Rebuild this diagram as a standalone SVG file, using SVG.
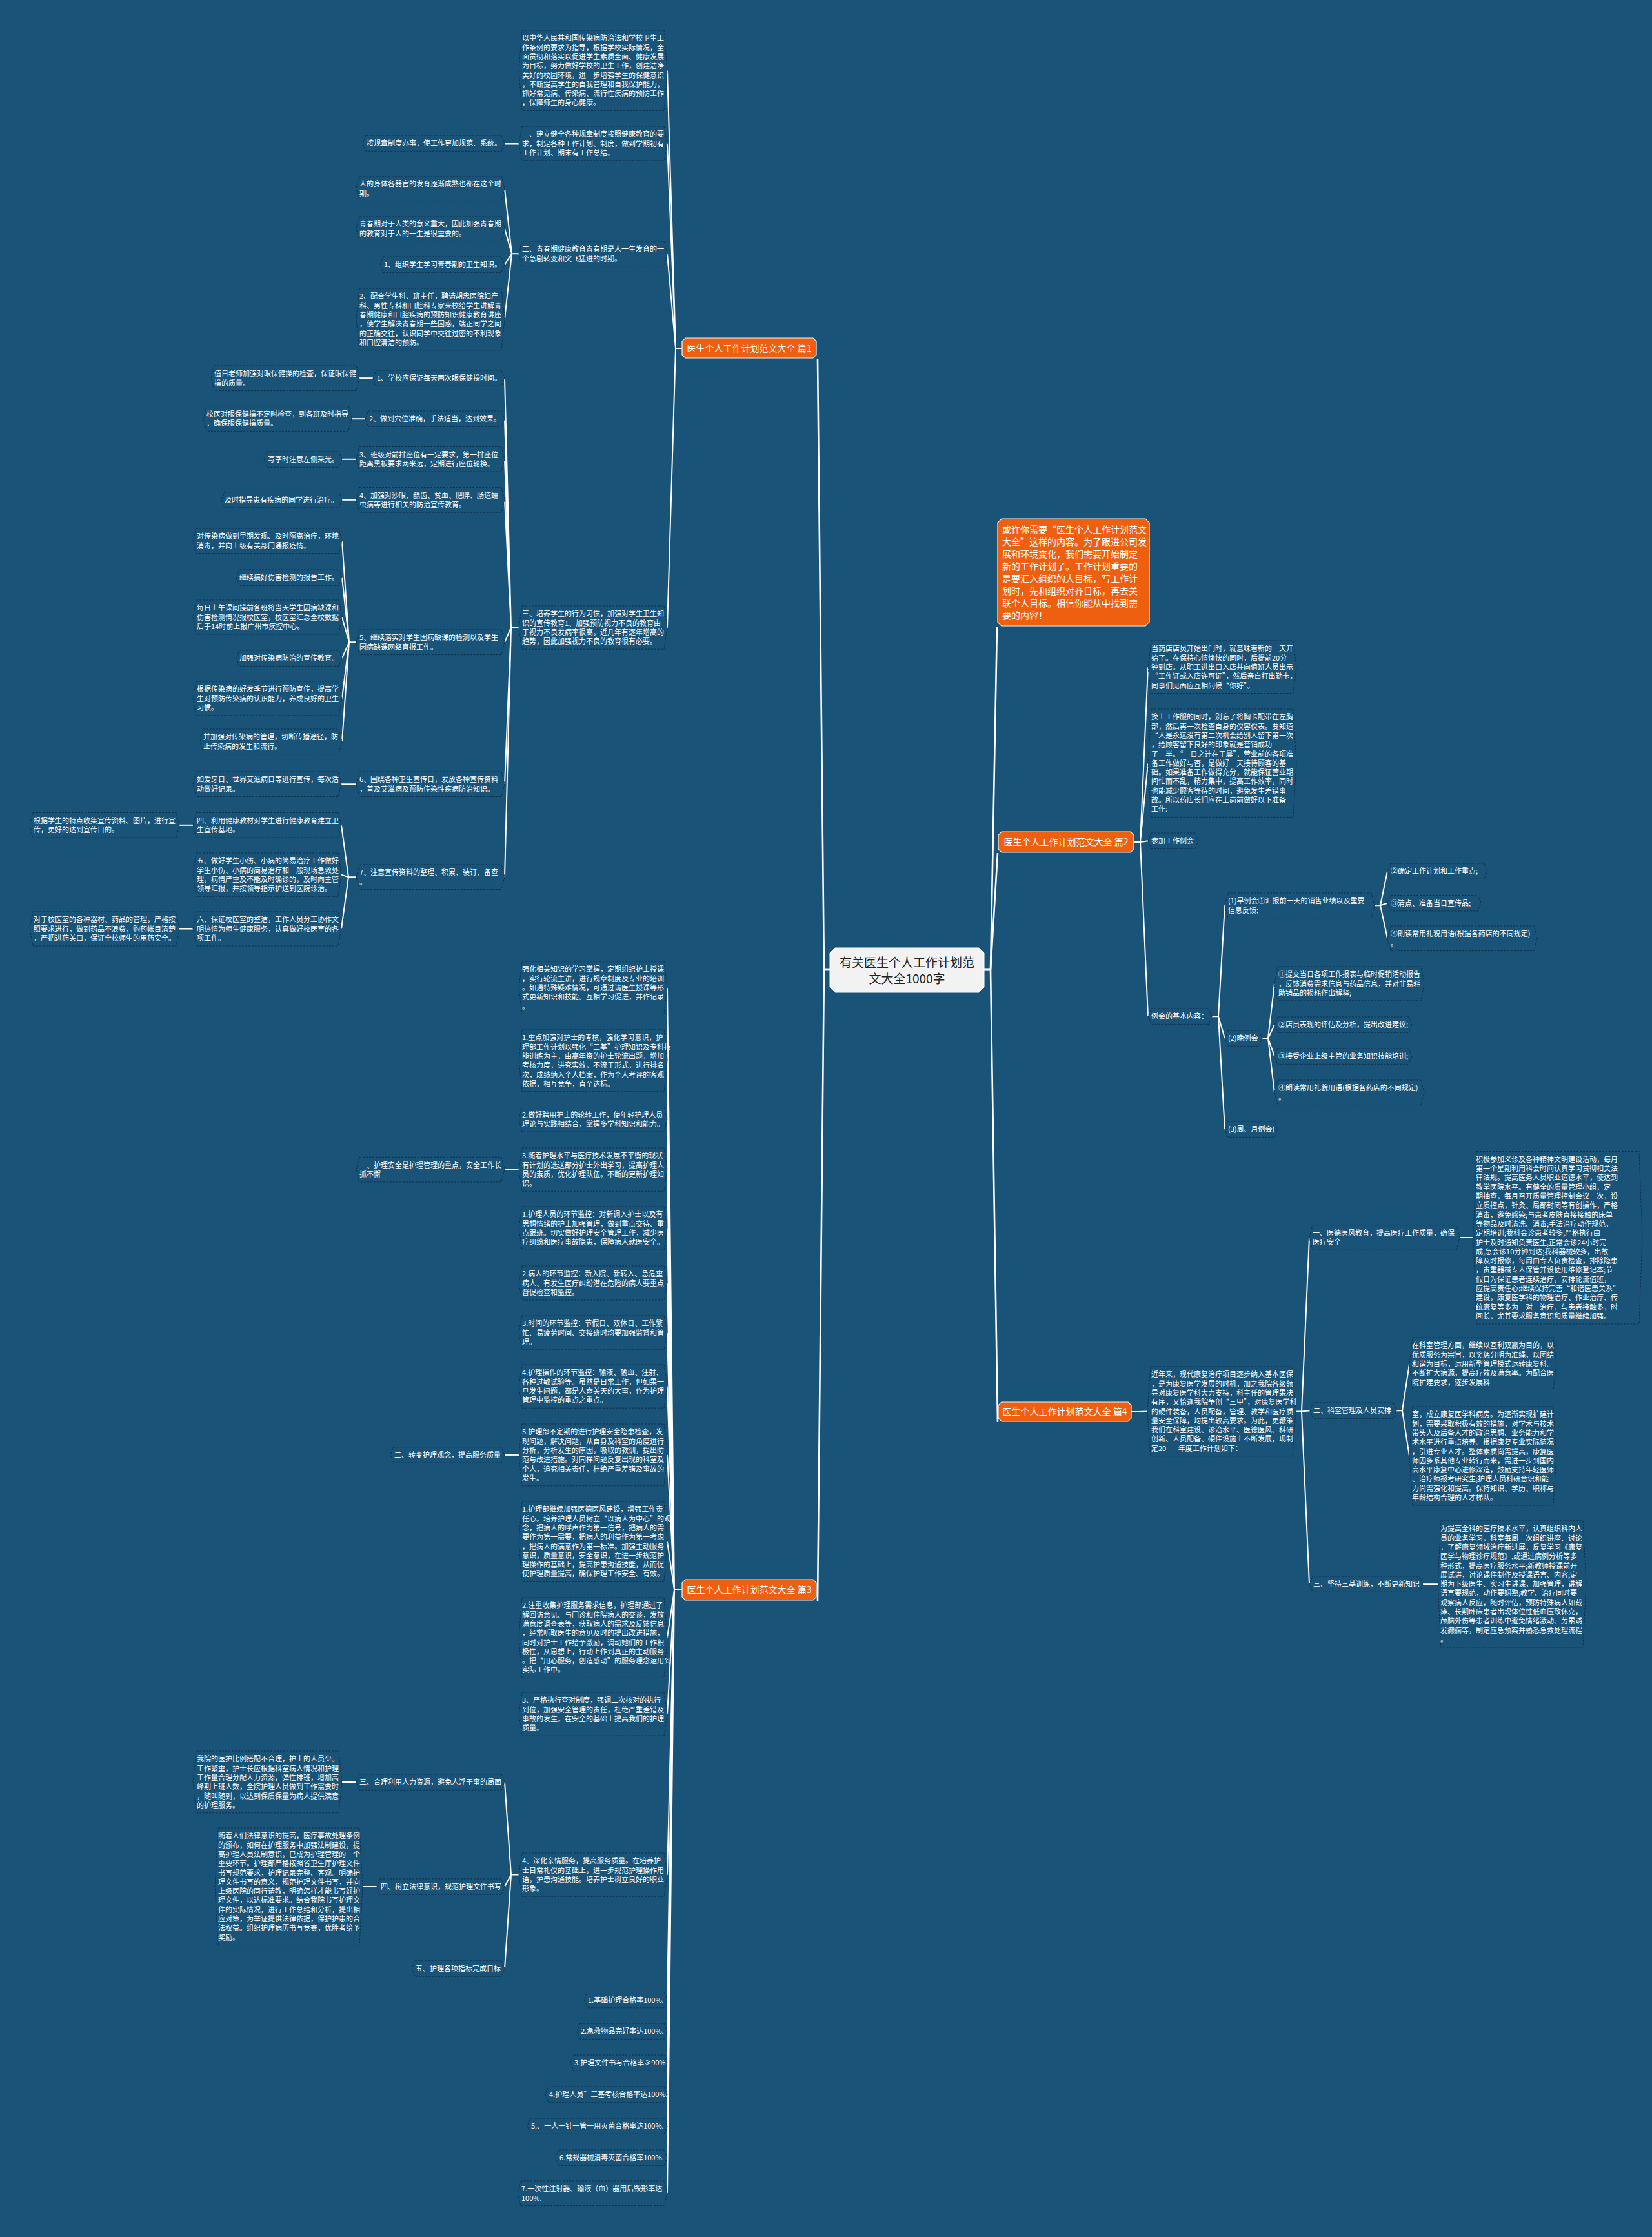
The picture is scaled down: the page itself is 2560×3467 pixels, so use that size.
<svg xmlns="http://www.w3.org/2000/svg" width="2560" height="3467" viewBox="0 0 2560 3467">
<style>
.n{fill:#1a5378;stroke:#0c304b;stroke-width:1;stroke-dasharray:3 2}
.t{font-family:"Noto Sans CJK SC","Noto Sans",sans-serif;font-size:11px;fill:#fff}
.o{fill:#ee5f0f;stroke:#f3f3f3;stroke-width:1.2}
.ot{font-family:"Noto Sans CJK SC","Noto Sans",sans-serif;font-size:14px;fill:#fff}
.ln{fill:none;stroke:#fff;stroke-width:2;stroke-linejoin:round}
.lm{fill:none;stroke:#fff;stroke-width:2.6;stroke-linejoin:round}
</style>
<rect x="0" y="0" width="2560" height="3467" fill="#1a5378"/>

<g id="connectors">
<path class="lm" d="M1286,1503 H1277 L1267,556"/>
<path class="lm" d="M1286,1503 H1277 L1267,2481"/>
<path class="lm" d="M1525,1503 H1535 L1545,971"/>
<path class="lm" d="M1525,1503 H1535 L1546,1322"/>
<path class="lm" d="M1525,1503 H1535 L1546,2204"/>
<path class="ln" d="M1057,540 H1047 L1034,109.2 M1047,540 L1034,222.5 M1047,540 L1034,393.3 M1047,540 L1034,972.6"/>
<path class="ln" d="M804,222.5 H782"/>
<path class="ln" d="M804,393.3 H793 L782,292.3 M793,393.3 L782,354.3 M793,393.3 L782,410.2 M793,393.3 L782,494.9"/>
<path class="ln" d="M804,972.6 H792 L782,586.2 M792,972.6 L782,649.2 M792,972.6 L782,711.8 M792,972.6 L782,774.8 M792,972.6 L782,995.3 M792,972.6 L782,1215.3 M792,972.6 L782,1359.3"/>
<path class="ln" d="M578,586.2 H557"/>
<path class="ln" d="M566,649.2 H545"/>
<path class="ln" d="M552,711.8 H530"/>
<path class="ln" d="M552,774.8 H530"/>
<path class="ln" d="M552,995.3 H541 L530,838.3 M541,995.3 L530,895.2 M541,995.3 L530,956.5 M541,995.3 L530,1020.2 M541,995.3 L530,1082.5 M541,995.3 L530,1149.3"/>
<path class="ln" d="M552,1215.3 H529"/>
<path class="ln" d="M552,1359.3 H540 L529,1278.8 M540,1359.3 L529,1355.6 M540,1359.3 L529,1439.5"/>
<path class="ln" d="M299,1278.8 H278"/>
<path class="ln" d="M299,1439.5 H278"/>
<path class="ln" d="M1057,2464 H1045 L1034,1530.8 M1045,2464 L1034,1643.9 M1045,2464 L1034,1734.8 M1045,2464 L1034,1812.6 M1045,2464 L1034,1903.6 M1045,2464 L1034,1988.5 M1045,2464 L1034,2065.5 M1045,2464 L1034,2148.6 M1045,2464 L1034,2254.9 M1045,2464 L1034,2389.2 M1045,2464 L1034,2538.2 M1045,2464 L1034,2656.6 M1045,2464 L1034,2905.6 M1045,2464 L1034,3099.7 M1045,2464 L1034,3148.2 M1045,2464 L1034,3197.2 M1045,2464 L1034,3246.2 M1045,2464 L1034,3295.2 M1045,2464 L1034,3344.2 M1045,2464 L1034,3399.3"/>
<path class="ln" d="M804,1812.6 H782"/>
<path class="ln" d="M804,2254.9 H782"/>
<path class="ln" d="M804,2905.6 H792 L782,2762 M792,2905.6 L782,2924 M792,2905.6 L782,3051"/>
<path class="ln" d="M552,2762 H530"/>
<path class="ln" d="M584,2924 H562"/>
<path class="ln" d="M1757,1305 H1767 L1779,1033.8 M1767,1305 L1779,1182.7 M1767,1305 L1779,1303.2 M1767,1305 L1779,1575.2"/>
<path class="ln" d="M1878,1575.2 H1888 L1898,1403.3 M1888,1575.2 L1898,1609.2 M1888,1575.2 L1898,1750.2"/>
<path class="ln" d="M2130,1403.3 H2139 L2150,1350.2 M2139,1403.3 L2150,1399.7 M2139,1403.3 L2150,1454.3"/>
<path class="ln" d="M1956,1609.2 H1965 L1975,1524.5 M1965,1609.2 L1975,1588.2 M1965,1609.2 L1975,1637.2 M1965,1609.2 L1975,1693.3"/>
<path class="ln" d="M1753,2188 H1765 L1778,2187.4"/>
<path class="ln" d="M2008,2187.4 H2017 L2029,1918 M2017,2187.4 L2030,2186.2 M2017,2187.4 L2029,2455.2"/>
<path class="ln" d="M2262,1918 H2283"/>
<path class="ln" d="M2164,2186.2 H2173 L2184,2113.8 M2173,2186.2 L2184,2256.5"/>
<path class="ln" d="M2205,2455.2 H2228"/>
</g>

<g id="center">
<path d="M1294,1469 H1517 L1525,1477 V1530 L1517,1538 H1294 L1286,1530 V1477 Z" fill="#f2f2f2" stroke="#ffffff" stroke-width="1"/>
<text x="1405.5" y="1499" text-anchor="middle" font-family="Noto Sans CJK SC, Noto Sans, sans-serif" font-size="19" fill="#222">有关医生个人工作计划范</text>
<text x="1405.5" y="1524" text-anchor="middle" font-family="Noto Sans CJK SC, Noto Sans, sans-serif" font-size="19" fill="#222">文大全1000字</text>
</g>

<g id="intro">
<path class="o" d="M1552,804 H1775 L1781,810 V964 L1775,970 H1552 L1546,964 V810 Z"/>
<text class="ot" x="1553" y="826.3"><tspan x="1553">或许你需要“医生个人工作计划范文</tspan><tspan x="1553" dy="18.9">大全”这样的内容。为了跟进公司发</tspan><tspan x="1553" dy="18.9">展和环境变化，我们需要开始制定</tspan><tspan x="1553" dy="18.9">新的工作计划了。工作计划重要的</tspan><tspan x="1553" dy="18.9">是要汇入组织的大目标，写工作计</tspan><tspan x="1553" dy="18.9">划时，先和组织对齐目标，再去关</tspan><tspan x="1553" dy="18.9">联个人目标。相信你能从中找到需</tspan><tspan x="1553" dy="18.9">要的内容！</tspan></text>
</g>

<g id="b1"><path class="o" d="M1062,524 H1260 L1265,529 V550 L1260,555 H1062 L1057,550 V529 Z"/><text class="ot" x="1161" y="544.5" text-anchor="middle">医生个人工作计划范文大全 篇1</text></g>
<g id="b2"><path class="o" d="M1552,1289 H1752 L1757,1294 V1316 L1752,1321 H1552 L1547,1316 V1294 Z"/><text class="ot" x="1652" y="1310" text-anchor="middle">医生个人工作计划范文大全 篇2</text></g>
<g id="b3"><path class="o" d="M1062,2448 H1260 L1265,2453 V2475 L1260,2480 H1062 L1057,2475 V2453 Z"/><text class="ot" x="1161" y="2469" text-anchor="middle">医生个人工作计划范文大全 篇3</text></g>
<g id="b4"><path class="o" d="M1552,2173 H1748 L1753,2178 V2198 L1748,2203 H1552 L1547,2198 V2178 Z"/><text class="ot" x="1650" y="2193" text-anchor="middle">医生个人工作计划范文大全 篇4</text></g>

<g id="a1"><polygon class="n" points="809,47 1029,47 1034,109.2 1029,171.4 809,171.4 804,109.2"/><text class="t" x="809" y="63.3"><tspan x="809">以中华人民共和国传染病防治法和学校卫生工</tspan><tspan x="809" dy="14.3">作条例的要求为指导，根据学校实际情况，全</tspan><tspan x="809" dy="14.3">面贯彻和落实以促进学生素质全面、健康发展</tspan><tspan x="809" dy="14.3">为目标，努力做好学校的卫生工作，创建洁净</tspan><tspan x="809" dy="14.3">美好的校园环境，进一步增强学生的保健意识</tspan><tspan x="809" dy="14.3">，不断提高学生的自我管理和自我保护能力，</tspan><tspan x="809" dy="14.3">抓好常见病、传染病、流行性疾病的预防工作</tspan><tspan x="809" dy="14.3">，保障师生的身心健康。</tspan></text></g>
<g id="a2"><polygon class="n" points="809,196 1029,196 1034,222.5 1029,248.9 809,248.9 804,222.5"/><text class="t" x="809" y="212.3"><tspan x="809">一、建立健全各种规章制度按照健康教育的要</tspan><tspan x="809" dy="14.3">求，制定各种工作计划、制度，做到学期初有</tspan><tspan x="809" dy="14.3">工作计划、期末有工作总结。</tspan></text></g>
<g id="a2c"><polygon class="n" points="567,210 777,210 782,222.2 777,234.3 567,234.3 562,222.2"/><text class="t" x="568" y="226.3">按规章制度办事，使工作更加规范、系统。</text></g>
<g id="a3"><polygon class="n" points="809,374 1029,374 1034,393.3 1029,412.6 809,412.6 804,393.3"/><text class="t" x="809" y="390.3"><tspan x="809">二、青春期健康教育青春期是人一生发育的一</tspan><tspan x="809" dy="14.3">个急剧转变和突飞猛进的时期。</tspan></text></g>
<g id="k1"><polygon class="n" points="557,273 777,273 782,292.3 777,311.6 557,311.6 552,292.3"/><text class="t" x="557" y="289.3"><tspan x="557">人的身体各器官的发育逐渐成熟也都在这个时</tspan><tspan x="557" dy="14.3">期。</tspan></text></g>
<g id="k2"><polygon class="n" points="557,335 777,335 782,354.3 777,373.6 557,373.6 552,354.3"/><text class="t" x="557" y="351.3"><tspan x="557">青春期对于人类的意义重大，因此加强青春期</tspan><tspan x="557" dy="14.3">的教育对于人的一生是很重要的。</tspan></text></g>
<g id="k3"><polygon class="n" points="594,398 777,398 782,410.2 777,422.3 594,422.3 589,410.2"/><text class="t" x="595" y="414.3">1、组织学生学习青春期的卫生知识。</text></g>
<g id="k4"><polygon class="n" points="557,447 777,447 782,494.9 777,542.8 557,542.8 552,494.9"/><text class="t" x="557" y="463.3"><tspan x="557">2、配合学生科、班主任，聘请胡忠医院妇产</tspan><tspan x="557" dy="14.3">科、男性专科和口腔科专家来校给学生讲解青</tspan><tspan x="557" dy="14.3">春期健康和口腔疾病的预防知识健康教育讲座</tspan><tspan x="557" dy="14.3">，使学生解决青春期一些困惑，端正同学之间</tspan><tspan x="557" dy="14.3">的正确交往，认识同学中交往过密的不利现象</tspan><tspan x="557" dy="14.3">和口腔清洁的预防。</tspan></text></g>
<g id="a4"><polygon class="n" points="809,939 1029,939 1034,972.6 1029,1006.2 809,1006.2 804,972.6"/><text class="t" x="809" y="955.3"><tspan x="809">三、培养学生的行为习惯，加强对学生卫生知</tspan><tspan x="809" dy="14.3">识的宣传教育1、加强预防视力不良的教育由</tspan><tspan x="809" dy="14.3">于视力不良发病率很高，近几年有逐年增高的</tspan><tspan x="809" dy="14.3">趋势，因此加强视力不良的教育很有必要。</tspan></text></g>
<g id="bb1"><polygon class="n" points="583,574 777,574 782,586.2 777,598.3 583,598.3 578,586.2"/><text class="t" x="584" y="590.3">1、学校应保证每天两次眼保健操时间。</text></g>
<g id="bb1c"><polygon class="n" points="332,567 552,567 557,586.3 552,605.6 332,605.6 327,586.3"/><text class="t" x="332" y="583.3"><tspan x="332">值日老师加强对眼保健操的检查，保证眼保健</tspan><tspan x="332" dy="14.3">操的质量。</tspan></text></g>
<g id="bb2"><polygon class="n" points="571,637 777,637 782,649.2 777,661.3 571,661.3 566,649.2"/><text class="t" x="572" y="653.3">2、做到穴位准确，手法适当，达到效果。</text></g>
<g id="bb2c"><polygon class="n" points="320,629.7 540,629.7 545,649 540,668.3 320,668.3 315,649"/><text class="t" x="320" y="646"><tspan x="320">校医对眼保健操不定时检查，到各班及时指导</tspan><tspan x="320" dy="14.3">，确保眼保健操质量。</tspan></text></g>
<g id="bb3"><polygon class="n" points="557,692.5 777,692.5 782,711.8 777,731.1 557,731.1 552,711.8"/><text class="t" x="557" y="708.8"><tspan x="557">3、班级对前排座位有一定要求，第一排座位</tspan><tspan x="557" dy="14.3">距离黑板要求两米远，定期进行座位轮换。</tspan></text></g>
<g id="bb3c"><polygon class="n" points="414,700 525,700 530,712.2 525,724.3 414,724.3 409,712.2"/><text class="t" x="415" y="716.3">写字时注意左侧采光。</text></g>
<g id="bb4"><polygon class="n" points="557,755.5 777,755.5 782,774.8 777,794.1 557,794.1 552,774.8"/><text class="t" x="557" y="771.8"><tspan x="557">4、加强对沙眼、龋齿、贫血、肥胖、肠道蠕</tspan><tspan x="557" dy="14.3">虫病等进行相关的防治宣传教育。</tspan></text></g>
<g id="bb4c"><polygon class="n" points="348,762.6 525,762.6 530,774.8 525,786.9 348,786.9 343,774.8"/><text class="t" x="348" y="778.9">及时指导患有疾病的同学进行治疗。</text></g>
<g id="bb5"><polygon class="n" points="557,976 777,976 782,995.3 777,1014.6 557,1014.6 552,995.3"/><text class="t" x="557" y="992.3"><tspan x="557">5、继续落实对学生因病缺课的检测以及学生</tspan><tspan x="557" dy="14.3">因病缺课网络直报工作。</tspan></text></g>
<g id="c51"><polygon class="n" points="304,819 525,819 530,838.3 525,857.6 304,857.6 299,838.3"/><text class="t" x="305" y="835.3"><tspan x="305">对传染病做到早期发现、及时隔离治疗，环境</tspan><tspan x="305" dy="14.3">消毒，并向上级有关部门通报疫情。</tspan></text></g>
<g id="c52"><polygon class="n" points="371,883 525,883 530,895.2 525,907.3 371,907.3 366,895.2"/><text class="t" x="371" y="899.3">继续搞好伤害检测的报告工作。</text></g>
<g id="c53"><polygon class="n" points="304,930 525,930 530,956.5 525,982.9 304,982.9 299,956.5"/><text class="t" x="305" y="946.3"><tspan x="305">每日上午课间操前各班将当天学生因病缺课和</tspan><tspan x="305" dy="14.3">伤害检测情况报校医室，校医室汇总全校数据</tspan><tspan x="305" dy="14.3">后于14时前上报广州市疾控中心。</tspan></text></g>
<g id="c54"><polygon class="n" points="371,1008 525,1008 530,1020.2 525,1032.3 371,1032.3 366,1020.2"/><text class="t" x="371" y="1024.3">加强对传染病防治的宣传教育。</text></g>
<g id="c55"><polygon class="n" points="304,1056 525,1056 530,1082.5 525,1108.9 304,1108.9 299,1082.5"/><text class="t" x="305" y="1072.3"><tspan x="305">根据传染病的好发季节进行预防宣传，提高学</tspan><tspan x="305" dy="14.3">生对预防传染病的认识能力，养成良好的卫生</tspan><tspan x="305" dy="14.3">习惯。</tspan></text></g>
<g id="c56"><polygon class="n" points="315,1130 525,1130 530,1149.3 525,1168.6 315,1168.6 310,1149.3"/><text class="t" x="315" y="1146.3"><tspan x="315">并加强对传染病的管理，切断传播途径，防</tspan><tspan x="315" dy="14.3">止传染病的发生和流行。</tspan></text></g>
<g id="bb6"><polygon class="n" points="557,1196 777,1196 782,1215.3 777,1234.6 557,1234.6 552,1215.3"/><text class="t" x="557" y="1212.3"><tspan x="557">6、围绕各种卫生宣传日，发放各种宣传资料</tspan><tspan x="557" dy="14.3">，普及艾滋病及预防传染性疾病防治知识。</tspan></text></g>
<g id="bb6c"><polygon class="n" points="304,1196 524,1196 529,1215.3 524,1234.6 304,1234.6 299,1215.3"/><text class="t" x="305" y="1212.3"><tspan x="305">如爱牙日、世界艾滋病日等进行宣传，每次活</tspan><tspan x="305" dy="14.3">动做好记录。</tspan></text></g>
<g id="bb7"><polygon class="n" points="557,1340 777,1340 782,1359.3 777,1378.6 557,1378.6 552,1359.3"/><text class="t" x="557" y="1356.3"><tspan x="557">7、注意宣传资料的整理、积累、装订、备查</tspan><tspan x="557" dy="14.3">。</tspan></text></g>
<g id="cc1"><polygon class="n" points="304,1259.5 524,1259.5 529,1278.8 524,1298.1 304,1298.1 299,1278.8"/><text class="t" x="305" y="1275.8"><tspan x="305">四、利用健康教材对学生进行健康教育建立卫</tspan><tspan x="305" dy="14.3">生宣传基地。</tspan></text></g>
<g id="cc1c"><polygon class="n" points="51,1259.5 273,1259.5 278,1278.8 273,1298.1 51,1298.1 46,1278.8"/><text class="t" x="52" y="1275.8"><tspan x="52">根据学生的特点收集宣传资料、图片，进行宣</tspan><tspan x="52" dy="14.3">传，更好的达到宣传目的。</tspan></text></g>
<g id="cc2"><polygon class="n" points="304,1322 524,1322 529,1355.6 524,1389.2 304,1389.2 299,1355.6"/><text class="t" x="305" y="1338.3"><tspan x="305">五、做好学生小伤、小病的简易治疗工作做好</tspan><tspan x="305" dy="14.3">学生小伤、小病的简易治疗和一般现场急救处</tspan><tspan x="305" dy="14.3">理，病情严重及不能及时确诊的，及时向主管</tspan><tspan x="305" dy="14.3">领导汇报，并按领导指示护送到医院诊治。</tspan></text></g>
<g id="cc3"><polygon class="n" points="304,1413 524,1413 529,1439.5 524,1465.9 304,1465.9 299,1439.5"/><text class="t" x="305" y="1429.3"><tspan x="305">六、保证校医室的整洁，工作人员分工协作文</tspan><tspan x="305" dy="14.3">明热情为师生健康服务，认真做好校医室的各</tspan><tspan x="305" dy="14.3">项工作。</tspan></text></g>
<g id="cc3c"><polygon class="n" points="51,1413 273,1413 278,1439.5 273,1465.9 51,1465.9 46,1439.5"/><text class="t" x="52" y="1429.3"><tspan x="52">对于校医室的各种器材、药品的管理，严格按</tspan><tspan x="52" dy="14.3">照要求进行，做到药品不浪费，购药帐目清楚</tspan><tspan x="52" dy="14.3">，严把进药关口，保证全校师生的用药安全。</tspan></text></g>

<g id="d1"><polygon class="n" points="809,1490 1029,1490 1034,1530.8 1029,1571.5 809,1571.5 804,1530.8"/><text class="t" x="809" y="1506.3"><tspan x="809">强化相关知识的学习掌握，定期组织护士授课</tspan><tspan x="809" dy="14.3">，实行轮流主讲，进行规章制度及专业的培训</tspan><tspan x="809" dy="14.3">。如遇特殊疑难情况，可通过请医生授课等形</tspan><tspan x="809" dy="14.3">式更新知识和技能。互相学习促进，并作记录</tspan><tspan x="809" dy="14.3">。</tspan></text></g>
<g id="d2"><polygon class="n" points="809,1596 1029,1596 1034,1643.9 1029,1691.8 809,1691.8 804,1643.9"/><text class="t" x="809" y="1612.3"><tspan x="809">1.重点加强对护士的考核，强化学习意识，护</tspan><tspan x="809" dy="14.3">理部工作计划以强化“三基”护理知识及专科技</tspan><tspan x="809" dy="14.3">能训练为主，由高年资的护士轮流出题，增加</tspan><tspan x="809" dy="14.3">考核力度，讲究实效，不流于形式，进行排名</tspan><tspan x="809" dy="14.3">次，成绩纳入个人档案，作为个人考评的客观</tspan><tspan x="809" dy="14.3">依据，相互竞争，直至达标。</tspan></text></g>
<g id="d3"><polygon class="n" points="809,1715.5 1029,1715.5 1034,1734.8 1029,1754.1 809,1754.1 804,1734.8"/><text class="t" x="809" y="1731.8"><tspan x="809">2.做好聘用护士的轮转工作，使年轻护理人员</tspan><tspan x="809" dy="14.3">理论与实践相结合，掌握多学科知识和能力。</tspan></text></g>
<g id="d4"><polygon class="n" points="809,1779 1029,1779 1034,1812.6 1029,1846.2 809,1846.2 804,1812.6"/><text class="t" x="809" y="1795.3"><tspan x="809">3.随着护理水平与医疗技术发展不平衡的现状</tspan><tspan x="809" dy="14.3">有计划的选送部分护士外出学习，提高护理人</tspan><tspan x="809" dy="14.3">员的素质，优化护理队伍。不断的更新护理知</tspan><tspan x="809" dy="14.3">识。</tspan></text></g>
<g id="d4c"><polygon class="n" points="557,1793.3 777,1793.3 782,1812.6 777,1831.9 557,1831.9 552,1812.6"/><text class="t" x="557" y="1809.6"><tspan x="557">一、护理安全是护理管理的重点，安全工作长</tspan><tspan x="557" dy="14.3">抓不懈</tspan></text></g>
<g id="d5"><polygon class="n" points="809,1870 1029,1870 1034,1903.6 1029,1937.2 809,1937.2 804,1903.6"/><text class="t" x="809" y="1886.3"><tspan x="809">1.护理人员的环节监控：对新调入护士以及有</tspan><tspan x="809" dy="14.3">思想情绪的护士加强管理，做到重点交待、重</tspan><tspan x="809" dy="14.3">点跟班。切实做好护理安全管理工作，减少医</tspan><tspan x="809" dy="14.3">疗纠纷和医疗事故隐患，保障病人就医安全。</tspan></text></g>
<g id="d6"><polygon class="n" points="809,1962 1029,1962 1034,1988.5 1029,2014.9 809,2014.9 804,1988.5"/><text class="t" x="809" y="1978.3"><tspan x="809">2.病人的环节监控：新入院、新转入、急危重</tspan><tspan x="809" dy="14.3">病人、有发生医疗纠纷潜在危险的病人要重点</tspan><tspan x="809" dy="14.3">督促检查和监控。</tspan></text></g>
<g id="d7"><polygon class="n" points="809,2039 1029,2039 1034,2065.5 1029,2091.9 809,2091.9 804,2065.5"/><text class="t" x="809" y="2055.3"><tspan x="809">3.时间的环节监控：节假日、双休日、工作繁</tspan><tspan x="809" dy="14.3">忙、易疲劳时间、交接班时均要加强监督和管</tspan><tspan x="809" dy="14.3">理。</tspan></text></g>
<g id="d8"><polygon class="n" points="809,2115 1029,2115 1034,2148.6 1029,2182.2 809,2182.2 804,2148.6"/><text class="t" x="809" y="2131.3"><tspan x="809">4.护理操作的环节监控：输液、输血、注射、</tspan><tspan x="809" dy="14.3">各种过敏试验等。虽然是日常工作，但如果一</tspan><tspan x="809" dy="14.3">旦发生问题，都是人命关天的大事，作为护理</tspan><tspan x="809" dy="14.3">管理中监控的重点之重点。</tspan></text></g>
<g id="d9"><polygon class="n" points="809,2207 1029,2207 1034,2254.9 1029,2302.8 809,2302.8 804,2254.9"/><text class="t" x="809" y="2223.3"><tspan x="809">5.护理部不定期的进行护理安全隐患检查，发</tspan><tspan x="809" dy="14.3">现问题，解决问题，从自身及科室的角度进行</tspan><tspan x="809" dy="14.3">分析，分析发生的原因，吸取的教训，提出防</tspan><tspan x="809" dy="14.3">范与改进措施。对同样问题反复出现的科室及</tspan><tspan x="809" dy="14.3">个人，追究相关责任，杜绝严重差错及事故的</tspan><tspan x="809" dy="14.3">发生。</tspan></text></g>
<g id="d9c"><polygon class="n" points="610,2242.8 777,2242.8 782,2254.9 777,2267.1 610,2267.1 605,2254.9"/><text class="t" x="611" y="2259.1">二、转变护理观念，提高服务质量</text></g>
<g id="d10"><polygon class="n" points="809,2327 1029,2327 1034,2389.2 1029,2451.4 809,2451.4 804,2389.2"/><text class="t" x="809" y="2343.3"><tspan x="809">1.护理部继续加强医德医风建设，增强工作责</tspan><tspan x="809" dy="14.3">任心。培养护理人员树立“以病人为中心”的观</tspan><tspan x="809" dy="14.3">念，把病人的呼声作为第一信号，把病人的需</tspan><tspan x="809" dy="14.3">要作为第一需要，把病人的利益作为第一考虑</tspan><tspan x="809" dy="14.3">，把病人的满意作为第一标准。加强主动服务</tspan><tspan x="809" dy="14.3">意识，质量意识，安全意识，在进一步规范护</tspan><tspan x="809" dy="14.3">理操作的基础上，提高护患沟通技能，从而促</tspan><tspan x="809" dy="14.3">使护理质量提高，确保护理工作安全、有效。</tspan></text></g>
<g id="d11"><polygon class="n" points="809,2476 1029,2476 1034,2538.2 1029,2600.4 809,2600.4 804,2538.2"/><text class="t" x="809" y="2492.3"><tspan x="809">2.注重收集护理服务需求信息，护理部通过了</tspan><tspan x="809" dy="14.3">解回访意见、与门诊和住院病人的交谈，发放</tspan><tspan x="809" dy="14.3">满意度调查表等，获取病人的需求及反馈信息</tspan><tspan x="809" dy="14.3">，经常听取医生的意见及时的提出改进措施，</tspan><tspan x="809" dy="14.3">同时对护士工作给予激励，调动她们的工作积</tspan><tspan x="809" dy="14.3">极性，从思想上，行动上作到真正的主动服务</tspan><tspan x="809" dy="14.3">。把“用心服务，创造感动”的服务理念运用到</tspan><tspan x="809" dy="14.3">实际工作中。</tspan></text></g>
<g id="d12"><polygon class="n" points="809,2623 1029,2623 1034,2656.6 1029,2690.2 809,2690.2 804,2656.6"/><text class="t" x="809" y="2639.3"><tspan x="809">3、严格执行查对制度，强调二次核对的执行</tspan><tspan x="809" dy="14.3">到位，加强安全管理的责任，杜绝严重差错及</tspan><tspan x="809" dy="14.3">事故的发生。在安全的基础上提高我们的护理</tspan><tspan x="809" dy="14.3">质量。</tspan></text></g>
<g id="d13"><polygon class="n" points="809,2872 1029,2872 1034,2905.6 1029,2939.2 809,2939.2 804,2905.6"/><text class="t" x="809" y="2888.3"><tspan x="809">4、深化亲情服务，提高服务质量。在培养护</tspan><tspan x="809" dy="14.3">士日常礼仪的基础上，进一步规范护理操作用</tspan><tspan x="809" dy="14.3">语，护患沟通技能。培养护士树立良好的职业</tspan><tspan x="809" dy="14.3">形象。</tspan></text></g>
<g id="e1"><polygon class="n" points="557,2749.9 777,2749.9 782,2762 777,2774.2 557,2774.2 552,2762"/><text class="t" x="557" y="2766.2">三、合理利用人力资源，避免人浮于事的局面</text></g>
<g id="e1c"><polygon class="n" points="304,2714 525,2714 530,2761.9 525,2809.8 304,2809.8 299,2761.9"/><text class="t" x="305" y="2730.3"><tspan x="305">我院的医护比例搭配不合理，护士的人员少。</tspan><tspan x="305" dy="14.3">工作繁重，护士长应根据科室病人情况和护理</tspan><tspan x="305" dy="14.3">工作量合理分配人力资源，弹性排班，增加高</tspan><tspan x="305" dy="14.3">峰期上班人数，全院护理人员做到工作需要时</tspan><tspan x="305" dy="14.3">，随叫随到，以达到保质保量为病人提供满意</tspan><tspan x="305" dy="14.3">的护理服务。</tspan></text></g>
<g id="e2"><polygon class="n" points="589,2911.9 777,2911.9 782,2924 777,2936.2 589,2936.2 584,2924"/><text class="t" x="590" y="2928.2">四、树立法律意识，规范护理文件书写</text></g>
<g id="e2c"><polygon class="n" points="338,2833 557,2833 562,2923.8 557,3014.6 338,3014.6 333,2923.8"/><text class="t" x="338" y="2849.3"><tspan x="338">随着人们法律意识的提高，医疗事故处理条例</tspan><tspan x="338" dy="14.3">的颁布，如何在护理服务中加强法制建设，提</tspan><tspan x="338" dy="14.3">高护理人员法制意识，已成为护理管理的一个</tspan><tspan x="338" dy="14.3">重要环节。护理部严格按照省卫生厅护理文件</tspan><tspan x="338" dy="14.3">书写规范要求，护理记录完整、客观。明确护</tspan><tspan x="338" dy="14.3">理文件书写的意义，规范护理文件书写，并向</tspan><tspan x="338" dy="14.3">上级医院的同行请教，明确怎样才能书写好护</tspan><tspan x="338" dy="14.3">理文件，以达标准要求。结合我院书写护理文</tspan><tspan x="338" dy="14.3">件的实际情况，进行工作总结和分析，提出相</tspan><tspan x="338" dy="14.3">应对策，为举证提供法律依据，保护护患的合</tspan><tspan x="338" dy="14.3">法权益。组织护理病历书写竞赛，优胜者给予</tspan><tspan x="338" dy="14.3">奖励。</tspan></text></g>
<g id="e3"><polygon class="n" points="643,3038.9 777,3038.9 782,3051 777,3063.2 643,3063.2 638,3051"/><text class="t" x="644" y="3055.2">五、护理各项指标完成目标</text></g>
<g id="f1"><polygon class="n" points="910,3087.5 1029,3087.5 1034,3099.7 1029,3111.8 910,3111.8 905,3099.7"/><text class="t" x="911" y="3103.8">1.基础护理合格率100%.</text></g>
<g id="f2"><polygon class="n" points="899,3136 1029,3136 1034,3148.2 1029,3160.3 899,3160.3 894,3148.2"/><text class="t" x="900" y="3152.3">2.急救物品完好率达100%.</text></g>
<g id="f3"><polygon class="n" points="889,3185 1029,3185 1034,3197.2 1029,3209.3 889,3209.3 884,3197.2"/><text class="t" x="890" y="3201.3">3.护理文件书写合格率≥90%</text></g>
<g id="f4"><polygon class="n" points="850,3234 1029,3234 1034,3246.2 1029,3258.3 850,3258.3 845,3246.2"/><text class="t" x="851" y="3250.3">4.护理人员”三基考核合格率达100%.</text></g>
<g id="f5"><polygon class="n" points="822,3283 1029,3283 1034,3295.2 1029,3307.3 822,3307.3 817,3295.2"/><text class="t" x="823" y="3299.3">5.、一人一针一管一用灭菌合格率达100%.</text></g>
<g id="f6"><polygon class="n" points="866,3332 1029,3332 1034,3344.2 1029,3356.3 866,3356.3 861,3344.2"/><text class="t" x="867" y="3348.3">6.常规器械消毒灭菌合格率100%.</text></g>
<g id="f7"><polygon class="n" points="807,3380 1029,3380 1034,3399.3 1029,3418.6 807,3418.6 802,3399.3"/><text class="t" x="808" y="3396.3"><tspan x="808">7.一次性注射器、输液（血）器用后毁形率达</tspan><tspan x="808" dy="14.3">100%.</tspan></text></g>

<g id="ga"><polygon class="n" points="1784,993 2004,993 2009,1033.8 2004,1074.5 1784,1074.5 1779,1033.8"/><text class="t" x="1784" y="1009.3"><tspan x="1784">当药店店员开始出门时，就意味着新的一天开</tspan><tspan x="1784" dy="14.3">始了。在保持心情愉快的同时，后提前20分</tspan><tspan x="1784" dy="14.3">钟到店。从职工进出口入店并向值班人员出示</tspan><tspan x="1784" dy="14.3">“工作证或入店许可证”，然后亲自打出勤卡，</tspan><tspan x="1784" dy="14.3">同事们见面应互相问候“你好”。</tspan></text></g>
<g id="gb"><polygon class="n" points="1784,1099 2004,1099 2009,1182.7 2004,1266.3 1784,1266.3 1779,1182.7"/><text class="t" x="1784" y="1115.3"><tspan x="1784">换上工作服的同时，别忘了将胸卡配带在左胸</tspan><tspan x="1784" dy="14.3">部，然后再一次检查自身的仪容仪表。要知道</tspan><tspan x="1784" dy="14.3">“人是永远没有第二次机会给别人留下第一次</tspan><tspan x="1784" dy="14.3">，给顾客留下良好的印象就是营销成功</tspan><tspan x="1784" dy="14.3">了一半。“一日之计在于晨”，营业前的各项准</tspan><tspan x="1784" dy="14.3">备工作做好与否，是做好一天接待顾客的基</tspan><tspan x="1784" dy="14.3">础。如果准备工作做得充分，就能保证营业期</tspan><tspan x="1784" dy="14.3">间忙而不乱，精力集中，提高工作效率，同时</tspan><tspan x="1784" dy="14.3">也能减少顾客等待的时间，避免发生差错事</tspan><tspan x="1784" dy="14.3">故。所以药店长们应在上岗前做好以下准备</tspan><tspan x="1784" dy="14.3">工作:</tspan></text></g>
<g id="g1"><polygon class="n" points="1784,1291 1852,1291 1857,1303.2 1852,1315.3 1784,1315.3 1779,1303.2"/><text class="t" x="1784" y="1307.3">参加工作例会</text></g>
<g id="g2"><polygon class="n" points="1784,1563 1873,1563 1878,1575.2 1873,1587.3 1784,1587.3 1779,1575.2"/><text class="t" x="1784" y="1579.3">例会的基本内容：</text></g>
<g id="h1"><polygon class="n" points="1903,1384 2125,1384 2130,1403.3 2125,1422.6 1903,1422.6 1898,1403.3"/><text class="t" x="1903" y="1400.3"><tspan x="1903">(1)早例会①汇报前一天的销售业绩以及重要</tspan><tspan x="1903" dy="14.3">信息反馈;</tspan></text></g>
<g id="h1a"><polygon class="n" points="2155,1338 2300,1338 2305,1350.2 2300,1362.3 2155,1362.3 2150,1350.2"/><text class="t" x="2155" y="1354.3">②确定工作计划和工作重点;</text></g>
<g id="h1b"><polygon class="n" points="2155,1387.5 2290,1387.5 2295,1399.7 2290,1411.8 2155,1411.8 2150,1399.7"/><text class="t" x="2155" y="1403.8">③清点、准备当日宣传品;</text></g>
<g id="h1c"><polygon class="n" points="2155,1435 2377,1435 2382,1454.3 2377,1473.6 2155,1473.6 2150,1454.3"/><text class="t" x="2155" y="1451.3"><tspan x="2155">④朗读常用礼貌用语(根据各药店的不同规定)</tspan><tspan x="2155" dy="14.3">。</tspan></text></g>
<g id="h2"><polygon class="n" points="1903,1597 1951,1597 1956,1609.2 1951,1621.3 1903,1621.3 1898,1609.2"/><text class="t" x="1903" y="1613.3">(2)晚例会</text></g>
<g id="h2a"><polygon class="n" points="1980,1498 2202,1498 2207,1524.5 2202,1550.9 1980,1550.9 1975,1524.5"/><text class="t" x="1981" y="1514.3"><tspan x="1981">①提交当日各项工作报表与临时促销活动报告</tspan><tspan x="1981" dy="14.3">，反馈消费需求信息与药品信息，并对非易耗</tspan><tspan x="1981" dy="14.3">助销品的损耗作出解释;</tspan></text></g>
<g id="h2b"><polygon class="n" points="1980,1576 2183,1576 2188,1588.2 2183,1600.3 1980,1600.3 1975,1588.2"/><text class="t" x="1981" y="1592.3">②店员表现的评估及分析，提出改进建议;</text></g>
<g id="h2c"><polygon class="n" points="1980,1625 2183,1625 2188,1637.2 2183,1649.3 1980,1649.3 1975,1637.2"/><text class="t" x="1981" y="1641.3">③接受企业上级主管的业务知识技能培训;</text></g>
<g id="h2d"><polygon class="n" points="1980,1674 2202,1674 2207,1693.3 2202,1712.6 1980,1712.6 1975,1693.3"/><text class="t" x="1981" y="1690.3"><tspan x="1981">④朗读常用礼貌用语(根据各药店的不同规定)</tspan><tspan x="1981" dy="14.3">。</tspan></text></g>
<g id="h3"><polygon class="n" points="1903,1738 1975,1738 1980,1750.2 1975,1762.3 1903,1762.3 1898,1750.2"/><text class="t" x="1903" y="1754.3">(3)周、月例会)</text></g>

<g id="k"><polygon class="n" points="1783,2118 2003,2118 2008,2187.4 2003,2256.7 1783,2256.7 1778,2187.4"/><text class="t" x="1784" y="2134.3"><tspan x="1784">近年来，现代康复治疗项目逐步纳入基本医保</tspan><tspan x="1784" dy="14.3">，是为康复医学发展的时机，加之我院各级领</tspan><tspan x="1784" dy="14.3">导对康复医学科大力支持，科主任的管理果决</tspan><tspan x="1784" dy="14.3">有序，又恰逢我院争创“三甲”，对康复医学科</tspan><tspan x="1784" dy="14.3">的硬件装备，人员配备，管理、教学和医疗质</tspan><tspan x="1784" dy="14.3">量安全保障，均提出较高要求。为此，更鞭策</tspan><tspan x="1784" dy="14.3">我们在科室建设、诊治水平、医德医风、科研</tspan><tspan x="1784" dy="14.3">创新、人员配备、硬件设施上不断发展，现制</tspan><tspan x="1784" dy="14.3">定20___年度工作计划如下：</tspan></text></g>
<g id="i1"><polygon class="n" points="2034,1898.7 2257,1898.7 2262,1918 2257,1937.3 2034,1937.3 2029,1918"/><text class="t" x="2034" y="1915"><tspan x="2034">一、医德医风教育，提高医疗工作质量，确保</tspan><tspan x="2034" dy="14.3">医疗安全</tspan></text></g>
<g id="i1c"><polygon class="n" points="2288,1784.5 2540,1784.5 2545,1918.2 2540,2051.9 2288,2051.9 2283,1918.2"/><text class="t" x="2287" y="1800.8"><tspan x="2287">积极参加义诊及各种精神文明建设活动，每月</tspan><tspan x="2287" dy="14.3">第一个星期利用科会时间认真学习贯彻相关法</tspan><tspan x="2287" dy="14.3">律法规。提高医务人员职业道德水平，使达到</tspan><tspan x="2287" dy="14.3">教学医院水平。有健全的质量管理小组，定</tspan><tspan x="2287" dy="14.3">期抽查，每月召开质量管理控制会议一次，设</tspan><tspan x="2287" dy="14.3">立质控点，针灸、局部封闭等有创操作，严格</tspan><tspan x="2287" dy="14.3">消毒，避免感染;与患者皮肤直接接触的床单</tspan><tspan x="2287" dy="14.3">等物品及时清洗、消毒;手法治疗动作规范，</tspan><tspan x="2287" dy="14.3">定期培训;我科会诊患者较多,严格执行由</tspan><tspan x="2287" dy="14.3">护士及时通知负责医生,正常会诊24小时完</tspan><tspan x="2287" dy="14.3">成,急会诊10分钟到达;我科器械较多，出故</tspan><tspan x="2287" dy="14.3">障及时报修，每周由专人负责检查，排除隐患</tspan><tspan x="2287" dy="14.3">，贵重器械专人保管并设使用维修登记本;节</tspan><tspan x="2287" dy="14.3">假日为保证患者连续治疗，安排轮流值班，</tspan><tspan x="2287" dy="14.3">应提高责任心;继续保持完善“和谐医患关系”</tspan><tspan x="2287" dy="14.3">建设，康复医学科的物理治疗、作业治疗、传</tspan><tspan x="2287" dy="14.3">统康复等多为一对一治疗，与患者接触多，时</tspan><tspan x="2287" dy="14.3">间长，尤其要求服务意识和质量继续加强。</tspan></text></g>
<g id="i2"><polygon class="n" points="2035,2174 2159,2174 2164,2186.2 2159,2198.3 2035,2198.3 2030,2186.2"/><text class="t" x="2035" y="2190.3">二、科室管理及人员安排</text></g>
<g id="i2a"><polygon class="n" points="2189,2073 2407,2073 2412,2113.8 2407,2154.5 2189,2154.5 2184,2113.8"/><text class="t" x="2188" y="2089.3"><tspan x="2188">在科室管理方面，继续以互利双赢为目的，以</tspan><tspan x="2188" dy="14.3">优质服务为宗旨，以奖惩分明为准绳，以团结</tspan><tspan x="2188" dy="14.3">和谐为目标，运用新型管理模式运转康复科。</tspan><tspan x="2188" dy="14.3">不断扩大病源，提高疗效及满意率。为配合医</tspan><tspan x="2188" dy="14.3">院扩建要求，逐步发展科</tspan></text></g>
<g id="i2b"><polygon class="n" points="2189,2180 2407,2180 2412,2256.5 2407,2333 2189,2333 2184,2256.5"/><text class="t" x="2188" y="2196.3"><tspan x="2188">室，成立康复医学科病房。为逐渐实现扩建计</tspan><tspan x="2188" dy="14.3">划，需要采取积极有效的措施，对学术与技术</tspan><tspan x="2188" dy="14.3">带头人及后备人才的政治思想、业务能力和学</tspan><tspan x="2188" dy="14.3">术水平进行重点培养。根据康复专业实际情况</tspan><tspan x="2188" dy="14.3">，引进专业人才。整体素质尚需提高，康复医</tspan><tspan x="2188" dy="14.3">师因多系其他专业转行而来，需进一步到国内</tspan><tspan x="2188" dy="14.3">高水平康复中心进修深造，鼓励支持年轻医师</tspan><tspan x="2188" dy="14.3">、治疗师报考研究生;护理人员科研意识和能</tspan><tspan x="2188" dy="14.3">力尚需强化和提高。保持知识、学历、职称与</tspan><tspan x="2188" dy="14.3">年龄结构合理的人才梯队。</tspan></text></g>
<g id="i3"><polygon class="n" points="2034,2443 2200,2443 2205,2455.2 2200,2467.3 2034,2467.3 2029,2455.2"/><text class="t" x="2035" y="2459.3">三、坚持三基训练，不断更新知识</text></g>
<g id="i3c"><polygon class="n" points="2233,2357 2453,2357 2458,2455 2453,2552.9 2233,2552.9 2228,2455"/><text class="t" x="2232" y="2373.3"><tspan x="2232">为提高全科的医疗技术水平，认真组织科内人</tspan><tspan x="2232" dy="14.3">员的业务学习，科室每周一次组织讲座、讨论</tspan><tspan x="2232" dy="14.3">，了解康复领域治疗新进展，反复学习《康复</tspan><tspan x="2232" dy="14.3">医学与物理诊疗规范》,或通过病例分析等多</tspan><tspan x="2232" dy="14.3">种形式，提高医疗服务水平;新教师授课前开</tspan><tspan x="2232" dy="14.3">展试讲，讨论课件制作及授课语言、内容;定</tspan><tspan x="2232" dy="14.3">期为下级医生、实习生讲课，加强管理，讲解</tspan><tspan x="2232" dy="14.3">语言要规范，动作要娴熟;教学、治疗同时要</tspan><tspan x="2232" dy="14.3">观察病人反应，随时评估，预防特殊病人如截</tspan><tspan x="2232" dy="14.3">瘫、长期卧床患者出现体位性低血压致休克，</tspan><tspan x="2232" dy="14.3">颅脑外伤等患者训练中避免情绪激动、劳累诱</tspan><tspan x="2232" dy="14.3">发癫痫等，制定应急预案并熟悉急救处理流程</tspan><tspan x="2232" dy="14.3">。</tspan></text></g>
</svg>
